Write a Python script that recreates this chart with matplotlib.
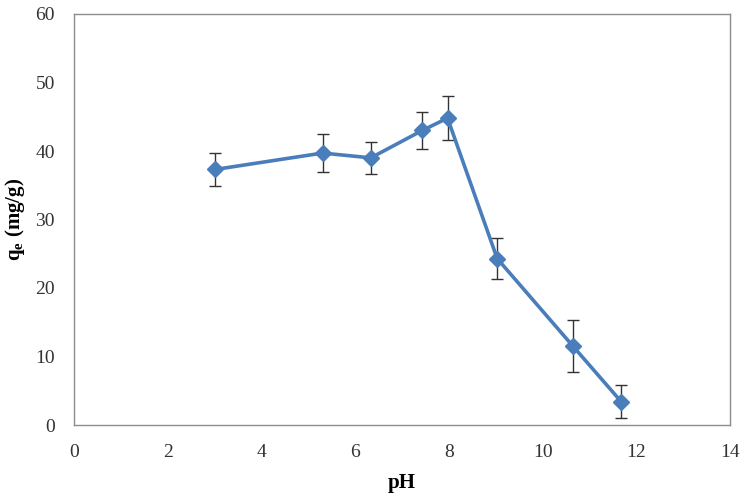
from matplotlib import pyplot as plt

ph = [3.0, 5.3, 6.33, 7.43, 7.97, 9.03, 10.65, 11.68]
qe = [37.3, 39.7, 39.0, 43.0, 44.8, 24.3, 11.5, 3.4]
err = [2.35, 2.8, 2.3, 2.65, 3.2, 3.0, 3.8, 2.4]

plt.rcParams['font.family'] = ['Liberation Serif', 'DejaVu Serif']

fig = plt.figure(figsize=(7.47, 5), dpi=100)
ax = fig.add_axes([0.0997, 0.15, 0.8773, 0.822])

ax.errorbar(ph, qe, yerr=err, fmt='none', ecolor='#333333', elinewidth=1.0,
            capsize=4, capthick=1.0, zorder=2)
ax.plot(ph, qe, '-', color='#4a7ebb', linewidth=2.6, marker='D',
        markersize=8, zorder=3)

ax.set_xlim(0, 14)
ax.set_ylim(0, 60)
ax.set_xticks(range(0, 15, 2))
ax.set_yticks(range(0, 61, 10))
ax.tick_params(length=0, labelsize=14, colors='#333333')
ax.tick_params(axis='x', pad=14)
ax.tick_params(axis='y', pad=14)
for s in ax.spines.values():
    s.set_color('#8c8c8c')
    s.set_linewidth(1.0)

ax.set_xlabel('pH', fontsize=15, fontweight='bold', labelpad=8)
ax.set_ylabel(r'q$_\mathregular{e}$ (mg/g)', fontsize=15, fontweight='bold',
              labelpad=6)

plt.savefig('out.png', dpi=100)
